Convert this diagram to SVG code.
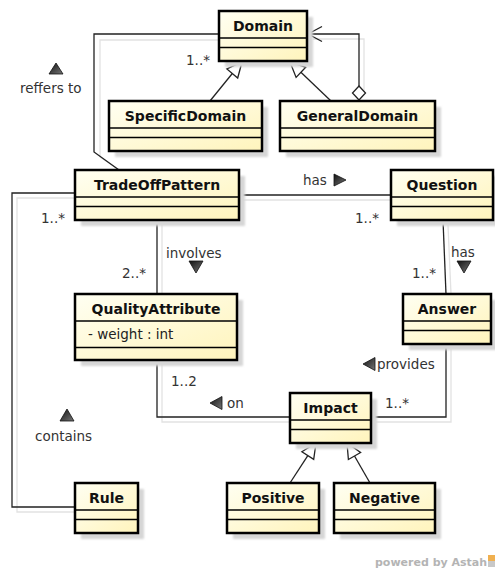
<svg xmlns="http://www.w3.org/2000/svg" width="495" height="570" viewBox="0 0 495 570">
  <style>
    .box { fill: url(#cls); stroke: #000; stroke-width: 2.5; }
    .shadow { fill: #d6d6d6; filter: url(#soft); }
    .div { stroke: #000; stroke-width: 1.4; }
    .name { font-family: "DejaVu Sans", "Liberation Sans", sans-serif; font-weight: bold; font-size: 14px; fill: #111; text-anchor: middle; }
    .attr { font-family: "DejaVu Sans", "Liberation Sans", sans-serif; font-size: 13.5px; fill: #222; }
    .lbl { font-family: "DejaVu Sans", "Liberation Sans", sans-serif; font-size: 13.5px; fill: #333; }
    .edge { fill: none; stroke: #222; stroke-width: 1.3; }
    .eshadow { fill: none; stroke: #e2e2e2; stroke-width: 1.3; }
    .dir { fill: url(#tri); stroke: #111; stroke-width: 0.8; }
    .gen { fill: #fff; stroke: #222; stroke-width: 1.3; }
    .brand { font-family: "DejaVu Sans", "Liberation Sans", sans-serif; font-weight: bold; font-size: 11px; fill: #b4b4b4; }
  </style>
  <defs>
    <linearGradient id="cls" x1="0" y1="0" x2="1" y2="1">
      <stop offset="0" stop-color="#fffff2"/>
      <stop offset="1" stop-color="#fff4bc"/>
    </linearGradient>
    <linearGradient id="tri" x1="0" y1="0" x2="1" y2="1">
      <stop offset="0" stop-color="#111"/>
      <stop offset="1" stop-color="#777"/>
    </linearGradient>
    <filter id="soft" x="-10%" y="-10%" width="120%" height="120%">
      <feGaussianBlur stdDeviation="1"/>
    </filter>
  </defs>

  <rect width="495" height="570" fill="#fff"/>

  <!-- connector shadows -->
  <g id="connector-shadows">
    <polyline class="eshadow" points="219,40 100,40 100,157 124,173"/>
    <polyline class="eshadow" points="313,39 364,39 364,91"/>
    <line class="eshadow" x1="239" y1="200" x2="396" y2="200"/>
    <polyline class="eshadow" points="75,198 17,198 17,512 75,512"/>
    <line class="eshadow" x1="162" y1="225" x2="162" y2="294"/>
    <line class="eshadow" x1="448" y1="225" x2="451" y2="294"/>
    <polyline class="eshadow" points="162,360 162,422 290,422"/>
    <polyline class="eshadow" points="451,349 451,422 376,422"/>
  </g>

  <!-- connectors -->
  <g id="connectors">
    <!-- TradeOffPattern refers to Domain -->
    <polyline class="edge" points="219,34 94,34 94,152 119,170"/>
    <!-- GeneralDomain aggregates Domain -->
    <polyline class="edge" points="308,34 359,34 359,86"/>
    <polyline class="edge" points="322,26.5 308,34 322,41.5"/>
    <polygon class="gen" points="359,86 365.5,93 359,100 352.5,93"/>
    <!-- generalizations to Domain -->
    <line class="edge" x1="210" y1="101" x2="232.3" y2="73.5"/>
    <polygon class="gen" points="242,62 237.7,78 226.9,69"/>
    <line class="edge" x1="331" y1="101" x2="300.9" y2="72.3"/>
    <polygon class="gen" points="290,62 305.7,67.3 296.1,77.4"/>
    <!-- TradeOffPattern has Question -->
    <line class="edge" x1="239" y1="195" x2="391" y2="195"/>
    <!-- TradeOffPattern contains Rule -->
    <polyline class="edge" points="75,193 12,193 12,507 75,507"/>
    <!-- TradeOffPattern involves QualityAttribute -->
    <line class="edge" x1="157" y1="220" x2="157" y2="294"/>
    <!-- Question has Answer -->
    <line class="edge" x1="443" y1="220" x2="446" y2="294"/>
    <!-- QualityAttribute on Impact -->
    <polyline class="edge" points="157,360 157,417 290,417"/>
    <!-- Answer provides Impact -->
    <polyline class="edge" points="446,344 446,417 371,417"/>
    <!-- generalizations to Impact -->
    <line class="edge" x1="290" y1="483" x2="307.8" y2="455.6"/>
    <polygon class="gen" points="316,443 313.7,459.4 301.9,451.8"/>
    <line class="edge" x1="370" y1="483" x2="354.5" y2="456"/>
    <polygon class="gen" points="347,443 360.6,452.5 348.4,459.5"/>
  </g>

  <!-- connector labels -->
  <g id="labels">
    <polygon class="dir" points="56,63 63,74 49,74"/>
    <text class="lbl" x="20" y="93">reffers to</text>
    <text class="lbl" x="186" y="65">1..*</text>

    <text class="lbl" x="303" y="185">has</text>
    <polygon class="dir" points="334,174 346,180 334,186"/>
    <text class="lbl" x="41" y="223">1..*</text>
    <text class="lbl" x="355" y="223">1..*</text>

    <text class="lbl" x="166" y="258">involves</text>
    <polygon class="dir" points="189,261 203,261 196,273"/>
    <text class="lbl" x="122" y="278">2..*</text>

    <text class="lbl" x="451" y="257">has</text>
    <polygon class="dir" points="457,261 471,261 464,273"/>
    <text class="lbl" x="412" y="278">1..*</text>

    <polygon class="dir" points="363,364 375,357.5 375,370.5"/>
    <text class="lbl" x="377" y="369">provides</text>
    <text class="lbl" x="385" y="408">1..*</text>

    <text class="lbl" x="171" y="386">1..2</text>
    <polygon class="dir" points="210,403 222,396.5 222,409.5"/>
    <text class="lbl" x="227" y="408">on</text>

    <polygon class="dir" points="67,409 74,421 60,421"/>
    <text class="lbl" x="35" y="441">contains</text>
  </g>

  <!-- classes -->
  <g id="Domain">
    <rect class="shadow" x="225" y="17" width="88" height="50"/>
    <rect class="box" x="219" y="11" width="88" height="50"/>
    <line class="div" x1="219" y1="38" x2="307" y2="38"/>
    <line class="div" x1="219" y1="47.5" x2="307" y2="47.5"/>
    <text class="name" x="263" y="31">Domain</text>
  </g>

  <g id="SpecificDomain">
    <rect class="shadow" x="115" y="107" width="153" height="50"/>
    <rect class="box" x="109" y="101" width="153" height="50"/>
    <line class="div" x1="109" y1="128" x2="262" y2="128"/>
    <line class="div" x1="109" y1="137.5" x2="262" y2="137.5"/>
    <text class="name" x="185.5" y="121">SpecificDomain</text>
  </g>

  <g id="GeneralDomain">
    <rect class="shadow" x="286" y="107" width="155" height="50"/>
    <rect class="box" x="280" y="101" width="155" height="50"/>
    <line class="div" x1="280" y1="128" x2="435" y2="128"/>
    <line class="div" x1="280" y1="137.5" x2="435" y2="137.5"/>
    <text class="name" x="357.5" y="121">GeneralDomain</text>
  </g>

  <g id="TradeOffPattern">
    <rect class="shadow" x="81" y="176" width="164" height="50"/>
    <rect class="box" x="75" y="170" width="164" height="50"/>
    <line class="div" x1="75" y1="197" x2="239" y2="197"/>
    <line class="div" x1="75" y1="206.5" x2="239" y2="206.5"/>
    <text class="name" x="157" y="190">TradeOffPattern</text>
  </g>

  <g id="Question">
    <rect class="shadow" x="397" y="176" width="102" height="50"/>
    <rect class="box" x="391" y="170" width="102" height="50"/>
    <line class="div" x1="391" y1="197" x2="493" y2="197"/>
    <line class="div" x1="391" y1="206.5" x2="493" y2="206.5"/>
    <text class="name" x="442" y="190">Question</text>
  </g>

  <g id="QualityAttribute">
    <rect class="shadow" x="81" y="300" width="162" height="66"/>
    <rect class="box" x="75" y="294" width="162" height="66"/>
    <line class="div" x1="75" y1="321" x2="237" y2="321"/>
    <line class="div" x1="75" y1="347.5" x2="237" y2="347.5"/>
    <text class="name" x="156" y="314">QualityAttribute</text>
    <text class="attr" x="88" y="339">- weight : int</text>
  </g>

  <g id="Answer">
    <rect class="shadow" x="409" y="300" width="88" height="50"/>
    <rect class="box" x="403" y="294" width="88" height="50"/>
    <line class="div" x1="403" y1="321" x2="491" y2="321"/>
    <line class="div" x1="403" y1="330.5" x2="491" y2="330.5"/>
    <text class="name" x="447" y="314">Answer</text>
  </g>

  <g id="Impact">
    <rect class="shadow" x="296" y="399" width="81" height="50"/>
    <rect class="box" x="290" y="393" width="81" height="50"/>
    <line class="div" x1="290" y1="420" x2="371" y2="420"/>
    <line class="div" x1="290" y1="429.5" x2="371" y2="429.5"/>
    <text class="name" x="330.5" y="413">Impact</text>
  </g>

  <g id="Rule">
    <rect class="shadow" x="81" y="489" width="63" height="50"/>
    <rect class="box" x="75" y="483" width="63" height="50"/>
    <line class="div" x1="75" y1="510" x2="138" y2="510"/>
    <line class="div" x1="75" y1="519.5" x2="138" y2="519.5"/>
    <text class="name" x="106.5" y="503">Rule</text>
  </g>

  <g id="Positive">
    <rect class="shadow" x="233" y="489" width="92" height="50"/>
    <rect class="box" x="227" y="483" width="92" height="50"/>
    <line class="div" x1="227" y1="510" x2="319" y2="510"/>
    <line class="div" x1="227" y1="519.5" x2="319" y2="519.5"/>
    <text class="name" x="273" y="503">Positive</text>
  </g>

  <g id="Negative">
    <rect class="shadow" x="340" y="489" width="101" height="50"/>
    <rect class="box" x="334" y="483" width="101" height="50"/>
    <line class="div" x1="334" y1="510" x2="435" y2="510"/>
    <line class="div" x1="334" y1="519.5" x2="435" y2="519.5"/>
    <text class="name" x="384.5" y="503">Negative</text>
  </g>

  <!-- footer mark -->
  <g id="footer">
    <text class="brand" x="375" y="566">powered by Astah</text>
    <rect x="488" y="555" width="7" height="6" fill="#f0b050"/>
    <rect x="488" y="561" width="7" height="6" fill="#c8c8c8"/>
  </g>
</svg>
